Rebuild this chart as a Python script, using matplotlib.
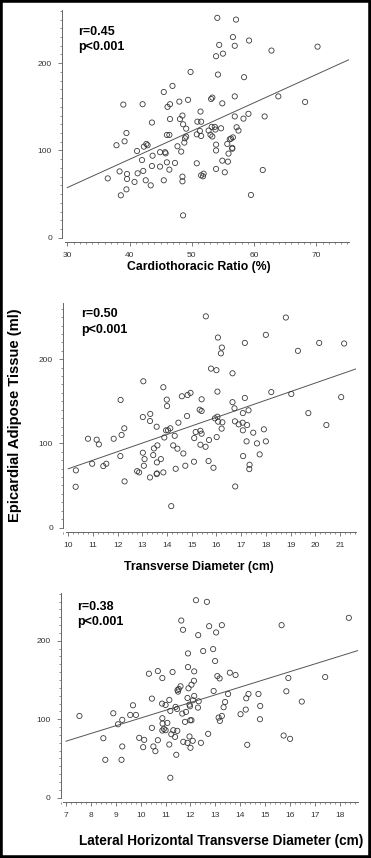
import matplotlib
matplotlib.use("Agg")
import matplotlib.pyplot as plt
from matplotlib.patches import Rectangle
from matplotlib.ticker import MultipleLocator, FixedLocator
import numpy as np

plt.rcParams['font.family'] = ['Liberation Sans', 'DejaVu Sans']

# ---------------- data ----------------
ctr_x = [54.1, 57.1, 56.6, 59.2, 54.4, 56.9, 70.2, 62.8, 55.0, 53.9, 49.8, 54.2, 58.4, 46.9, 45.5,
         56.9, 63.9, 53.3, 53.1, 49.4, 48.0, 68.2, 54.9, 39.0, 42.1, 46.5, 46.1, 51.4, 48.5, 59.1,
         56.9, 61.7, 58.3, 46.5, 48.1, 43.6, 50.9, 51.5, 48.6, 53.2, 53.7, 57.2, 49.1, 54.7, 52.7,
         57.5, 51.3, 53.8, 39.5, 53.3, 51.5, 53.0, 50.8, 46.0, 46.4, 49.1, 48.9, 56.6, 56.1, 56.3,
         48.8, 39.2, 55.7, 53.9, 42.7, 42.9, 37.9, 47.7, 42.3, 56.5, 56.5, 53.9, 41.2, 48.3, 44.9,
         45.7, 45.8, 55.9, 43.7, 42.0, 54.9, 55.8, 46.0, 47.3, 50.8, 43.6, 44.9, 46.4, 53.9, 38.4,
         42.2, 61.4, 55.3, 41.3, 39.6, 51.9, 51.5, 51.8, 48.5, 36.5, 39.6, 42.6, 45.5, 48.5, 40.8,
         43.4, 39.5, 38.6, 59.5, 48.6]
ctr_y = [252, 250, 230, 226, 221, 220, 219, 214.5, 211, 208, 190, 187, 184, 174, 167,
         162, 162, 160.6, 159, 158, 156, 155.6, 154, 152.6, 153, 153, 150, 144.6, 140, 142,
         139, 139, 136.5, 136, 136, 132, 133, 133, 130, 127, 127, 126.6, 125, 125.4, 122.8,
         122.8, 122.4, 124, 120, 116, 116.6, 118, 118.5, 117.8, 117.8, 115.9, 114, 115, 112.8, 113.6,
         109, 110.5, 107.5, 106.7, 107.5, 106, 106, 104.8, 104.4, 103, 102, 100, 99.4, 98.7, 98,
         98, 96.7, 96.4, 94, 89, 88.3, 87.2, 86.4, 85.7, 85.3, 82.2, 81.5, 78, 78.8, 76,
         76.5, 77.6, 75, 73.8, 73, 73.4, 71.5, 70.4, 70, 68, 67.3, 65.8, 65.8, 64.6, 63.9,
         60, 55.4, 48.6, 49, 25.6]

td_x = [15.57, 18.81, 16.06, 18.0, 17.15, 20.16, 21.17, 16.22, 16.18, 19.3, 15.78, 16.0, 16.65, 13.04, 13.85,
        12.12, 16.04, 18.22, 19.03, 14.95, 14.83, 14.6, 21.05, 13.99, 15.4, 17.15, 16.65, 14.0, 16.73, 15.32,
        15.4, 17.3, 17.07, 19.72, 13.32, 13.02, 16.04, 15.94, 14.81, 13.31, 16.07, 16.75, 16.24, 14.46, 17.06,
        16.9, 17.24, 20.45, 13.58, 12.27, 16.21, 14.13, 13.96, 14.04, 17.07, 17.92, 15.35, 15.16, 15.4, 17.49,
        12.16, 14.31, 13.89, 15.1, 16.01, 10.8, 11.84, 11.15, 15.7, 17.22, 18.0, 11.24, 15.35, 17.64, 13.61,
        14.25, 15.56, 13.47, 14.42, 13.02, 14.66, 17.75, 13.44, 12.11, 17.08, 13.09, 13.75, 15.68, 15.09, 13.59,
        11.54, 10.97, 17.34, 11.42, 13.06, 14.74, 14.35, 17.33, 15.88, 10.31, 12.79, 12.87, 13.59, 13.85, 13.58,
        13.31, 12.28, 10.3, 16.76, 14.17]
td_y = [251, 249.6, 225.8, 229, 219.4, 219.4, 218.7, 213.9, 207, 210, 188.9, 187, 183.3, 173.8, 166.7,
        151.6, 161.5, 161, 158.7, 160, 157.5, 156, 155, 152, 152.4, 154, 149, 144.4, 141.7, 140,
        138.5, 139.3, 136, 136, 135, 131.3, 131.7, 129.8, 132.5, 126.6, 125.8, 126.2, 125, 124.6, 124.6,
        122.6, 121.8, 121.8, 119.8, 117.9, 117.5, 117.9, 115.5, 115.5, 115.5, 116.7, 115, 113.5, 111.5, 112.7,
        110, 109, 107, 106.3, 107.5, 105.5, 105.5, 104.4, 104, 102.4, 102.4, 98.8, 98.4, 100, 97.6,
        97.6, 96, 94, 93.7, 88.9, 88, 86.9, 86.1, 84.9, 84.9, 81.3, 81.3, 79, 78.2, 77.4,
        75.8, 75.8, 74.6, 73, 73.4, 73.4, 69.8, 69.4, 71, 67.9, 67, 65.5, 64.3, 65.5, 63.5,
        59.5, 54.8, 48.4, 48.8, 25.4]

lh_x = [12.22, 12.66, 11.63, 15.66, 18.36, 12.75, 13.26, 11.7, 13.03, 12.31, 12.91, 12.51, 11.9, 12.99, 10.33,
        10.69, 11.28, 12.15, 11.9, 13.58, 13.81, 13.08, 13.17, 10.87, 15.93, 17.41, 12.14, 12.04, 11.6, 11.53,
        11.48, 11.92, 11.5, 12.93, 15.85, 13.51, 14.33, 14.73, 12.15, 10.45, 14.24, 11.88, 11.15, 12.1, 12.33,
        13.39, 16.47, 10.86, 11.0, 9.69, 11.96, 11.98, 14.8, 13.33, 12.3, 11.4, 11.46, 11.19, 14.22, 11.82,
        11.67, 14.01, 9.58, 9.81, 7.54, 8.9, 13.26, 13.13, 10.87, 11.99, 12.04, 13.18, 14.79, 9.26, 11.78,
        11.07, 10.88, 9.09, 10.45, 10.93, 11.0, 11.31, 11.47, 10.87, 11.23, 12.71, 11.38, 11.96, 9.94, 8.5,
        15.74, 16.0, 10.14, 10.69, 12.09, 11.71, 11.88, 12.42, 11.15, 14.28, 9.26, 10.51, 10.1, 12.0, 10.59,
        11.43, 8.58, 9.23, 11.19]
lh_y = [251.7, 249.6, 225.8, 219.9, 229.2, 218.6, 219.9, 214, 210.6, 207.2, 189.4, 186.9, 183.9, 174.2, 158,
        161.4, 160.2, 161, 166.5, 159.3, 156.4, 155, 152, 152.5, 152.5, 153.8, 149, 144, 142, 138.6,
        137.3, 139.4, 135.2, 136, 135.6, 132.2, 132.2, 132.2, 129.7, 126.3, 126.7, 127.1, 124.6, 124.2, 122.9,
        122, 122.5, 119.9, 118.2, 117.8, 118.6, 116.5, 116.9, 115.3, 114.8, 115.7, 113.1, 110.6, 112.3, 109.3,
        107.2, 106.4, 105.5, 105.5, 104.2, 107.6, 104.2, 102.1, 101.3, 98.7, 98.7, 97.9, 100, 99.2, 96.6,
        95.3, 94.5, 93.6, 89, 87.7, 86, 86, 85.2, 85.6, 80.9, 81.4, 77.5, 78, 76.3, 75.8,
        79.2, 75, 73.7, 73.3, 72.5, 71.2, 69.9, 69.9, 67.8, 67.4, 65.3, 65.3, 64.4, 63.6, 59.3,
        54.7, 48.3, 48.3, 25.4]

# regression lines (slope, intercept) and x-extent
fit_slope = [3.241, 10.19, 9.855]
fit_intercept = [-39.8, -32.1, 3.0]
fit_xrange = [(30, 75.3), (10, 21.65), (7, 18.78)]

stats_r = ["r=0.45", "r=0.50", "r=0.38"]
stats_p = ["p<0.001", "p<0.001", "p<0.001"]
xlabels = ["Cardiothoracic Ratio (%)", "Transverse Diameter (cm)",
           "Lateral Horizontal Transverse Diameter (cm)"]
ylabel = "Epicardial Adipose Tissue (ml)"
y_major = [0, 100, 200]

# ---------------- layout ----------------
W, H = 371, 858
fig = plt.figure(figsize=(W / 100, H / 100), dpi=100)

def fx(px):
    return px / W

def fy(py):
    return 1 - py / H

# (left px, right px, top px, bottom px, xlim, ylim, x major step, x minor step)
panels = [
    (62.3, 349.3, 10.0, 237.7, (29.2, 75.3), (0, 261), 10, 1),
    (63.3, 356.0, 303.3, 527.5, (9.8, 21.65), (0, 266.5), 1, 0.2),
    (61.0, 358.3, 593.3, 797.7, (6.8, 18.74), (0, 260.5), 1, 0.2),
]
xs = [ctr_x, td_x, lh_x]
ys = [ctr_y, td_y, lh_y]

axis_col = '#666666'
lab_col = '#333333'

for i, (l, r, t, b, xl, yl, xmaj, xmin) in enumerate(panels):
    ax = fig.add_axes([fx(l), fy(b), (r - l) / W, (b - t) / H])
    ax.set_xlim(*xl)
    ax.set_ylim(*yl)
    ax.scatter(xs[i], ys[i], s=14, facecolors='none', edgecolors='#3a3a3a', linewidths=0.6, zorder=3)
    x0, x1 = fit_xrange[i]
    lx = np.array([x0, x1])
    ax.plot(lx, fit_slope[i] * lx + fit_intercept[i], color='#555555', lw=0.7, zorder=2)

    for s in ['top', 'right']:
        ax.spines[s].set_visible(False)
    ax.spines['bottom'].set_position(('outward', 2.9))
    dpx = (xl[1] - xl[0]) / (r - l)
    ax.spines['bottom'].set_bounds(xl[0] + 2.5 * dpx, xl[1])
    ax.spines['left'].set_bounds(yl[0], yl[1])
    for s in ['bottom', 'left']:
        ax.spines[s].set_color(axis_col)
        ax.spines[s].set_linewidth(0.7)

    start = np.ceil(xl[0] / xmaj) * xmaj
    majors = np.arange(start, xl[1] + 1e-9, xmaj)
    ax.xaxis.set_major_locator(FixedLocator(majors))
    ax.xaxis.set_minor_locator(MultipleLocator(xmin))
    ax.yaxis.set_major_locator(FixedLocator(y_major))
    ax.yaxis.set_minor_locator(MultipleLocator(10))
    ax.set_xticklabels([f"{m:g}" for m in majors])
    ax.tick_params(which='major', direction='out', length=3.0, width=0.6, color=axis_col,
                   labelsize=6, labelcolor=lab_col, pad=4.5)
    ax.tick_params(which='minor', direction='out', length=1.5, width=0.5, color=axis_col)
    ax.patch.set_visible(False)

# stats text
stat_pos = [(78.5, 32.3, 47.3), (81.5, 314.3, 330.0), (77.3, 606.7, 621.7)]
for i, (x, y1, y2) in enumerate(stat_pos):
    fig.text(fx(x), fy(y1), stats_r[i], fontsize=9, fontweight='bold', ha='left', va='center')
    fig.text(fx(x), fy(y2), stats_p[i], fontsize=9, fontweight='bold', ha='left', va='center')

# x labels
xlab_pos = [(198.5, 266.7, 8.8), (199.0, 567.0, 8.8), (221.0, 841.0, 9.8)]
for i, (x, y, fs) in enumerate(xlab_pos):
    fig.text(fx(x), fy(y), xlabels[i], fontsize=fs, fontweight='bold', ha='center', va='center')

fig.text(fx(15), fy(415), ylabel, fontsize=10.6, fontweight='bold', rotation=90,
         ha='center', va='center')

fig.add_artist(Rectangle((0, 0), 1, 1, transform=fig.transFigure, fill=False,
                         lw=4, ec='black'))

fig.savefig('out.png', dpi=100)
